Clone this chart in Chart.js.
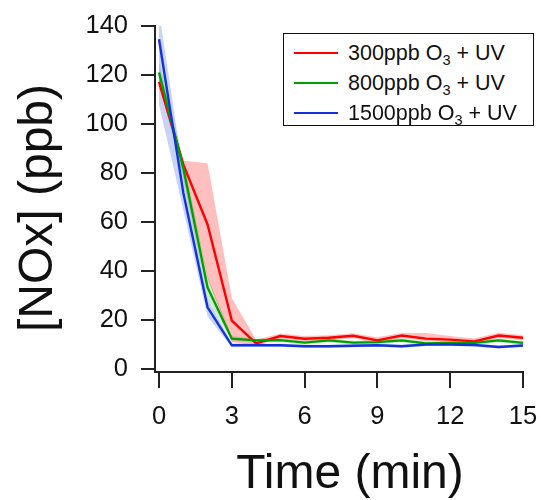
<!DOCTYPE html>
<html>
<head>
<meta charset="utf-8">
<script src="https://cdn.jsdelivr.net/npm/chart.js@4.4.1/dist/chart.umd.min.js"></script>
<style>
    body { margin: 0; background: #fff; }
    #wrap { position: relative; width: 543px; height: 500px; }
    #legend {
        position: absolute; left: 283px; top: 33px; width: 249px; height: 91px;
        border: 1.5px solid #111; background: #fff;
        font-family: "Liberation Sans", Arial, sans-serif; font-size: 21.5px; color: #111;
    }
    #legend .row { position: absolute; left: 0; right: 0; height: 30px; line-height: 30px; }
    #legend .swatch { position: absolute; left: 10px; top: 14px; width: 44px; height: 2px; }
    #legend .txt { position: absolute; left: 64px; white-space: nowrap; }
    #legend sub { font-size: 0.68em; vertical-align: -0.35em; line-height: 0; }
</style>
</head>
<body>
<div id="wrap">
    <canvas id="chart" width="543" height="500"></canvas>
    <div id="legend"></div>
</div>
<script>
// time in minutes
const times = [0, 1, 2, 3, 4, 5, 6, 7, 8, 9, 10, 11, 12, 13, 14, 15];

const seriesLabels = ['300ppb O₃ + UV', '800ppb O₃ + UV', '1500ppb O₃ + UV'];

// mean NOx (ppb)
const nox300 = [117.2, 83.5, 59, 19.8, 10.5, 13.5, 12.4, 12.8, 13.6, 11.7, 13.7, 12.4, 12.0, 11.3, 13.7, 12.8];
const nox800 = [121, 82, 33.3, 12.4, 11.7, 11.8, 10.8, 11.7, 10.8, 11.0, 11.7, 10.5, 10.7, 10.7, 11.7, 10.7];
const nox1500 = [134.6, 72, 25.2, 9.7, 9.7, 9.7, 9.3, 9.3, 9.5, 9.7, 9.3, 10.0, 10.0, 9.8, 9.0, 9.6];

// spread around each mean
const nox300Hi = [119, 85, 84, 29, 12, 14.5, 13.5, 13.8, 14.6, 13, 14.7, 14.7, 13.5, 12.5, 14.8, 13.8];
const nox300Lo = [115, 82, 37, 11, 9.5, 12.5, 11.4, 11.8, 12.6, 10.7, 12.7, 11.5, 11, 10.3, 12.7, 11.8];
const nox800Hi = [125, 86, 38, 13.5, 12.5, 12.6, 11.6, 12.5, 11.6, 11.8, 12.5, 11.3, 11.5, 11.5, 12.5, 11.5];
const nox800Lo = [117, 78, 29, 11.3, 10.9, 11.0, 10, 10.9, 10, 10.2, 10.9, 9.7, 9.9, 9.9, 10.9, 9.9];
const nox1500Hi = [146, 80, 29, 10.5, 10.3, 10.3, 9.9, 9.9, 10.1, 10.3, 9.9, 10.6, 10.6, 10.4, 9.6, 10.2];
const nox1500Lo = [108, 65, 21.5, 8.9, 9.1, 9.1, 8.7, 8.7, 8.9, 9.1, 8.7, 9.4, 9.4, 9.2, 8.4, 9.0];

const xTicks = [0, 3, 6, 9, 12, 15];
const yTicks = [0, 20, 40, 60, 80, 100, 120, 140];
const xTitle = 'Time (min)';
const yTitle = '[NOx] (ppb)';

const lineColors = ['#ff0000', '#00a000', '#1432dc'];
const bandColors = ['rgba(255, 0, 0, 0.25)', 'rgba(0, 160, 0, 0.2)', 'rgba(40, 80, 220, 0.25)'];

const FONT = '"Liberation Sans", Arial, sans-serif';

function toPoints(values) {
    return values.map((v, i) => ({ x: times[i], y: v }));
}

function lineSet(label, values, color, order) {
    return {
        label: label,
        data: toPoints(values),
        borderColor: color,
        borderWidth: 2.4,
        pointRadius: 0,
        tension: 0,
        fill: false,
        order: order
    };
}

function bandSet(values, color, target, order) {
    return {
        label: '',
        data: toPoints(values),
        borderWidth: 0,
        pointRadius: 0,
        backgroundColor: color,
        fill: target === null ? false : { target: target },
        order: order
    };
}

const datasets = [
    lineSet(seriesLabels[2], nox1500, lineColors[2], 0),
    lineSet(seriesLabels[1], nox800, lineColors[1], 1),
    lineSet(seriesLabels[0], nox300, lineColors[0], 2),
    bandSet(nox300Hi, bandColors[0], 4, 3),
    bandSet(nox300Lo, bandColors[0], null, 4),
    bandSet(nox800Hi, bandColors[1], 6, 5),
    bandSet(nox800Lo, bandColors[1], null, 6),
    bandSet(nox1500Hi, bandColors[2], 8, 7),
    bandSet(nox1500Lo, bandColors[2], null, 8)
];

// axis titles placed a little off the axis centre
const axisTitles = {
    id: 'axisTitles',
    afterDraw(chart) {
        const { ctx, chartArea } = chart;
        ctx.save();
        ctx.fillStyle = '#111';
        ctx.font = '48px ' + FONT;
        ctx.textAlign = 'center';
        ctx.textBaseline = 'alphabetic';
        ctx.fillText(xTitle, (chartArea.left + chartArea.right) / 2 + 11, chartArea.bottom + 116);
        ctx.translate(52, (chartArea.top + chartArea.bottom) / 2 + 9);
        ctx.rotate(-Math.PI / 2);
        ctx.fillText(yTitle, 0, 0);
        ctx.restore();
    }
};

const axisStyle = {
    grid: { drawOnChartArea: false, drawTicks: true, tickColor: '#222', tickWidth: 2, lineWidth: 2 },
    border: { display: true, color: '#222', width: 2 }
};

new Chart(document.getElementById('chart').getContext('2d'), {
    type: 'line',
    data: { datasets: datasets },
    options: {
        responsive: false,
        animation: false,
        layout: { padding: { top: 26, right: 20, left: 0, bottom: 0 } },
        plugins: {
            legend: { display: false },
            tooltip: { enabled: false }
        },
        scales: {
            x: {
                type: 'linear',
                min: -0.165,
                max: 15,
                afterBuildTicks: s => { s.ticks = xTicks.map(v => ({ value: v })); },
                afterFit: s => { s.height = 128; s.paddingLeft = 0; s.paddingRight = 0; },
                ticks: { font: { family: FONT, size: 25.5 }, color: '#111', padding: 14, maxRotation: 0, autoSkip: false },
                grid: Object.assign({}, axisStyle.grid, { tickLength: 16 }),
                border: axisStyle.border
            },
            y: {
                type: 'linear',
                min: -1.2,
                max: 140,
                afterBuildTicks: s => { s.ticks = yTicks.map(v => ({ value: v })); },
                afterFit: s => { s.width = 155; s.paddingTop = 0; s.paddingBottom = 0; },
                ticks: { font: { family: FONT, size: 25.5 }, color: '#111', padding: 13, autoSkip: false },
                grid: Object.assign({}, axisStyle.grid, { tickLength: 14 }),
                border: axisStyle.border
            }
        }
    },
    plugins: [axisTitles]
});

// legend box with subscript in the ozone label
const legend = document.getElementById('legend');
seriesLabels.forEach((label, i) => {
    const row = document.createElement('div');
    row.className = 'row';
    row.style.top = (4 + i * 30) + 'px';
    const swatch = document.createElement('div');
    swatch.className = 'swatch';
    swatch.style.background = lineColors[i];
    const txt = document.createElement('span');
    txt.className = 'txt';
    txt.innerHTML = label.replace('₃', '<sub>3</sub>');
    row.appendChild(swatch);
    row.appendChild(txt);
    legend.appendChild(row);
});
</script>
</body>
</html>
